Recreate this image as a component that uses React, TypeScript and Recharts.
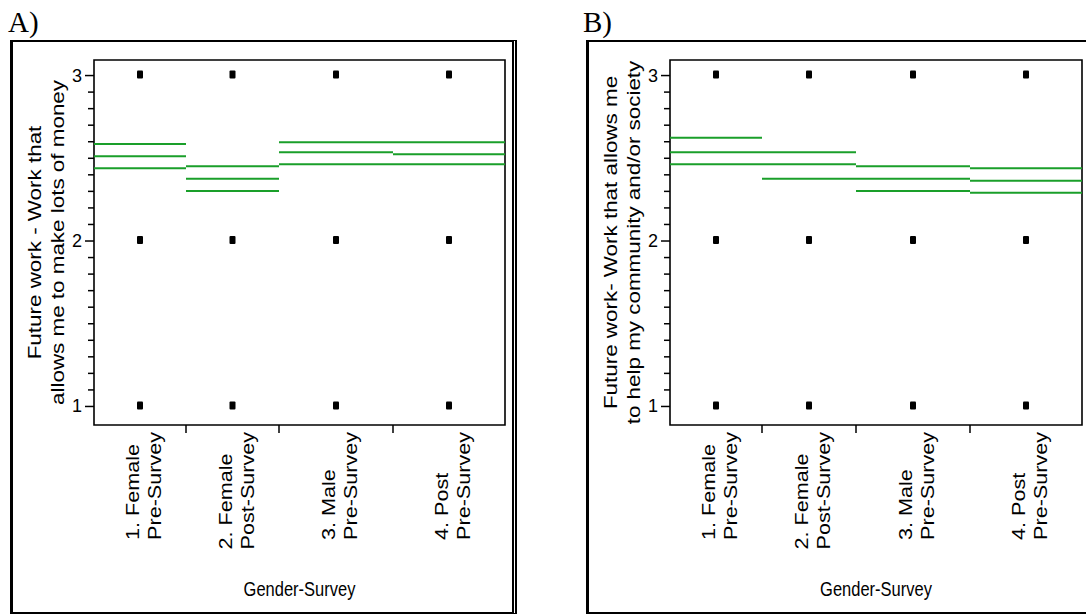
import React from 'react';
import {
  ComposedChart,
  Scatter,
  XAxis,
  YAxis,
  ReferenceLine,
  ReferenceArea,
} from 'recharts';

// Shared settings for both one-way panels
const FONT = '"Liberation Sans", Arial, Helvetica, sans-serif';
const GREEN = '#1a9f2a';
const STRETCH = 1.18; // text is drawn a little taller than wide, as in the exported figure
const X_LABEL_SIZE = 18.3;

const groupLabels = [
  ['1. Female', 'Pre-Survey'],
  ['2. Female', 'Post-Survey'],
  ['3. Male', 'Pre-Survey'],
  ['4. Post', 'Pre-Survey'],
];
const responseLevels = [1, 2, 3];
const yTicks = [1, 1.1, 1.2, 1.3, 1.4, 1.5, 1.6, 1.7, 1.8, 1.9, 2, 2.1, 2.2, 2.3, 2.4, 2.5, 2.6, 2.7, 2.8, 2.9, 3];
const yDomain: [number, number] = [0.888, 3.094];

// Panel A: make lots of money (group widths follow group size)
const widthsA = [92, 93, 114, 112];
const upperA = [2.587, 2.452, 2.597, 2.597];
const meanA = [2.512, 2.376, 2.537, 2.524];
const lowerA = [2.44, 2.303, 2.464, 2.464];
const titleA = ['Future work - Work that', 'allows me to make lots of money'];

// Panel B: help my community and/or society
const widthsB = [92, 94, 114, 112];
const upperB = [2.624, 2.537, 2.452, 2.44];
const meanB = [2.537, 2.464, 2.376, 2.364];
const lowerB = [2.464, 2.376, 2.303, 2.291];
const titleB = ['Future work- Work that allows me', 'to help my community and/or society'];

const near = (a: number, b: number) => Math.abs(a - b) < 1e-6;

// canvas is only used to measure label lengths so the rotated lines line up at their start
const measureCtx =
  typeof document !== 'undefined' ? document.createElement('canvas').getContext('2d') : null;
function textWidth(t: string, size: number) {
  if (!measureCtx) return t.length * size * 0.52;
  measureCtx.font = `${size}px "Liberation Sans", Arial, sans-serif`;
  return measureCtx.measureText(t).width;
}

function YTick({ x, y, payload }: any) {
  const v = payload.value;
  const major = near(v, Math.round(v));
  return (
    <g>
      <line x1={x - (major ? 9 : 6)} x2={x} y1={y} y2={y} stroke="#000" strokeWidth={1.5} />
      {major && (
        <text x={x - 12} y={y} textAnchor="end" dominantBaseline="central" fontSize={18} fontFamily={FONT} fill="#000">
          {v}
        </text>
      )}
    </g>
  );
}

function XTick({ x, y, payload, centers }: any) {
  const idx = centers.findIndex((c: number) => near(c, payload.value));
  if (idx < 0) {
    return <line x1={x} x2={x} y1={y} y2={y + 8} stroke="#000" strokeWidth={1.5} />;
  }
  const lines = groupLabels[idx];
  const blockLen = Math.max(...lines.map((t) => textWidth(t, X_LABEL_SIZE))) * STRETCH;
  return (
    <g>
      {lines.map((t, i) => (
        <text
          key={i}
          transform={`translate(${x - 7 + i * 22},${y + 7 + blockLen}) scale(1,${STRETCH}) rotate(-90)`}
          textAnchor="start"
          dominantBaseline="central"
          fontSize={X_LABEL_SIZE}
          fontFamily={FONT}
          fill="#000"
        >
          {t}
        </text>
      ))}
    </g>
  );
}

function XTitle({ viewBox }: any) {
  const { x, y, width } = viewBox;
  return (
    <text
      transform={`translate(${x + width / 2},${y + 165}) scale(1,${STRETCH})`}
      textAnchor="middle"
      dominantBaseline="central"
      fontSize={16.5}
      fontFamily={FONT}
      fill="#000"
    >
      Gender-Survey
    </text>
  );
}

function YTitle({ viewBox, lines }: any) {
  const { x, y, width, height } = viewBox;
  const right = x + width;
  const cy = y + height / 2;
  return (
    <g>
      {lines.map((t: string, i: number) => (
        <text
          key={i}
          transform={`translate(${right - 60 + i * 23},${cy}) scale(1,${STRETCH}) rotate(-90)`}
          textAnchor="middle"
          dominantBaseline="central"
          fontSize={19}
          fontFamily={FONT}
          fill="#000"
        >
          {t}
        </text>
      ))}
    </g>
  );
}

const Square = ({ cx, cy }: any) => (
  <rect x={cx - 3} y={cy - 5} width={6} height={8} rx={1} fill="#000" />
);

interface PanelProps {
  widths: number[];
  upper: number[];
  mean: number[];
  lower: number[];
  title: string[];
  width: number;
  rightMargin: number;
}

function OnewayPanel({ widths, upper, mean, lower, title, width, rightMargin }: PanelProps) {
  const starts: number[] = [];
  let acc = 0;
  widths.forEach((w) => {
    starts.push(acc);
    acc += w;
  });
  const total = acc;
  const centers = widths.map((w, i) => starts[i] + w / 2);
  const boundaries = starts.slice(1);
  const xTicks = [...boundaries, ...centers].sort((a, b) => a - b);
  const points = centers.flatMap((c) => responseLevels.map((v) => ({ x: c, y: v })));

  const segments: { key: string; x0: number; x1: number; v: number }[] = [];
  widths.forEach((w, i) => {
    [upper[i], mean[i], lower[i]].forEach((v, k) => {
      segments.push({ key: `${i}-${k}`, x0: starts[i], x1: starts[i] + w, v });
    });
  });

  return (
    <ComposedChart
      width={width}
      height={572}
      margin={{ top: 20, right: rightMargin, left: 0, bottom: 0 }}
    >
      <XAxis
        type="number"
        dataKey="x"
        domain={[0, total]}
        ticks={xTicks}
        interval={0}
        tickSize={0}
        tickMargin={0}
        axisLine={false}
        tickLine={false}
        height={187}
        tick={(p: any) => <XTick {...p} centers={centers} />}
        label={<XTitle />}
      />
      <YAxis
        type="number"
        dataKey="y"
        domain={yDomain}
        ticks={yTicks}
        interval={0}
        tickSize={0}
        tickMargin={0}
        axisLine={false}
        tickLine={false}
        width={84}
        tick={(p: any) => <YTick {...p} />}
        label={<YTitle lines={title} />}
      />
      <ReferenceArea
        x1={0}
        x2={total}
        y1={yDomain[0]}
        y2={yDomain[1]}
        fill="none"
        fillOpacity={0}
        stroke="#000"
        strokeWidth={1.6}
        ifOverflow="visible"
      />
      {segments.map((s) => (
        <ReferenceLine
          key={s.key}
          segment={[
            { x: s.x0, y: s.v },
            { x: s.x1, y: s.v },
          ]}
          stroke={GREEN}
          strokeWidth={2}
        />
      ))}
      <Scatter data={points} shape={Square} isAnimationActive={false} />
    </ComposedChart>
  );
}

const panelTitle: React.CSSProperties = {
  position: 'absolute',
  top: 8,
  fontFamily: '"Liberation Serif", "Times New Roman", serif',
  fontSize: 29,
  lineHeight: 1,
  color: '#000',
};

export default function App() {
  return (
    <div
      style={{
        position: 'absolute',
        left: 0,
        top: 0,
        width: 1086,
        height: 616,
        background: '#fff',
        overflow: 'hidden',
        fontFamily: FONT,
      }}
    >
      <div style={{ ...panelTitle, left: 8 }}>A)</div>
      <div style={{ ...panelTitle, left: 583 }}>B)</div>

      <div
        style={{
          position: 'absolute',
          left: 10,
          top: 40,
          width: 499,
          height: 570,
          borderLeft: '3px solid #000',
          borderTop: '2px solid #000',
          borderBottom: '2px solid #000',
          borderRight: '5px double #000',
        }}
      />
      <div
        style={{
          position: 'absolute',
          left: 586,
          top: 40,
          width: 600,
          height: 570,
          borderLeft: '3px solid #000',
          borderTop: '2px solid #000',
          borderBottom: '2px solid #000',
        }}
      />

      <div style={{ position: 'absolute', left: 10, top: 40 }}>
        <OnewayPanel
          widths={widthsA}
          upper={upperA}
          mean={meanA}
          lower={lowerA}
          title={titleA}
          width={503}
          rightMargin={8}
        />
      </div>
      <div style={{ position: 'absolute', left: 586, top: 40 }}>
        <OnewayPanel
          widths={widthsB}
          upper={upperB}
          mean={meanB}
          lower={lowerB}
          title={titleB}
          width={500}
          rightMargin={4}
        />
      </div>
    </div>
  );
}
